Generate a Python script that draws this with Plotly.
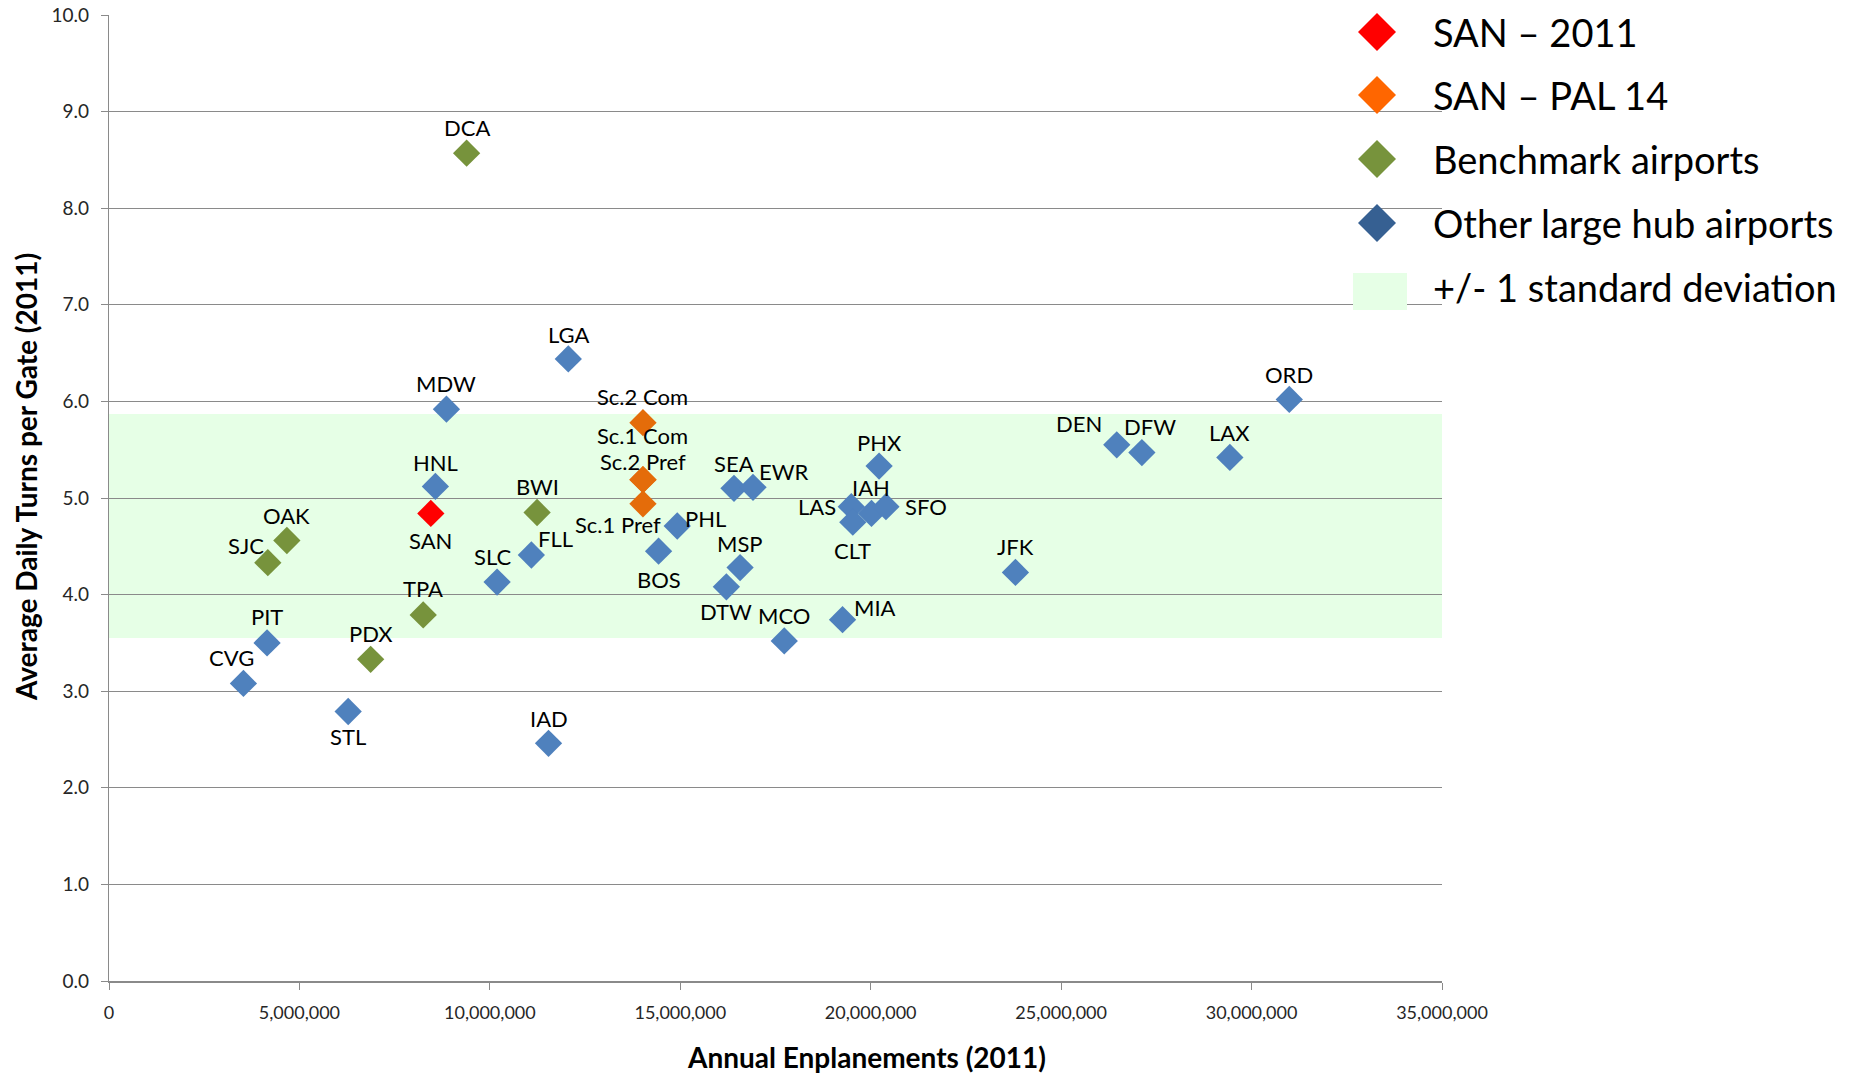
import plotly.graph_objects as go

# ---- data: annual enplanements (2011) vs. average daily turns per gate (2011) ----
san_2011_names = ["SAN"]
san_2011_enpl = [8.45e6]
san_2011_turns = [4.84]

pal14_names = ["Sc.2 Com", "Sc.1 Com", "Sc.2 Pref", "Sc.1 Pref"]
pal14_enpl = [14.02e6, 14.02e6, 14.02e6, 14.02e6]
pal14_turns = [5.78, 5.19, 5.19, 4.94]

bench_names = ["DCA", "OAK", "SJC", "BWI", "TPA", "PDX"]
bench_enpl = [9.39e6, 4.67e6, 4.17e6, 11.24e6, 8.25e6, 6.87e6]
bench_turns = [8.57, 4.56, 4.33, 4.85, 3.79, 3.33]

hub_names = ["LGA", "MDW", "HNL", "SLC", "FLL", "PIT", "CVG", "STL", "IAD",
             "PHL", "BOS", "SEA", "EWR", "MSP", "DTW", "MCO", "MIA", "PHX",
             "LAS", "IAH", "SFO", "CLT", "JFK", "DEN", "DFW", "LAX", "ORD"]
hub_enpl = [12.06e6, 8.86e6, 8.57e6, 10.19e6, 11.09e6, 4.15e6, 3.53e6, 6.28e6, 11.54e6,
            14.92e6, 14.43e6, 16.41e6, 16.91e6, 16.57e6, 16.21e6, 17.73e6, 19.26e6, 20.22e6,
            19.49e6, 20.02e6, 20.40e6, 19.53e6, 23.80e6, 26.46e6, 27.12e6, 29.43e6, 30.99e6]
hub_turns = [6.44, 5.92, 5.12, 4.13, 4.41, 3.50, 3.08, 2.79, 2.46,
             4.71, 4.45, 5.10, 5.11, 4.28, 4.08, 3.52, 3.74, 5.33,
             4.91, 4.84, 4.91, 4.75, 4.23, 5.55, 5.47, 5.42, 6.02]

# mean +/- 1 standard deviation band
band_low = 3.55
band_high = 5.87

x_tick_vals = [0, 5e6, 10e6, 15e6, 20e6, 25e6, 30e6, 35e6]
x_tick_text = ["0", "5,000,000", "10,000,000", "15,000,000", "20,000,000",
               "25,000,000", "30,000,000", "35,000,000"]
y_tick_vals = [0, 1, 2, 3, 4, 5, 6, 7, 8, 9, 10]

legend_labels = ["SAN \u2013 2011", "SAN \u2013 PAL 14", "Benchmark airports",
                 "Other large hub airports", "+/- 1 standard deviation"]

# ---- styling ----
W, H = 1856, 1075
FONT = "Lato, 'Open Sans', sans-serif"
GRID = "#8a8a8a"
BAND = "#e6ffe6"
marker_colors = {"san": "#ff0000", "pal": "#e46c0a", "bench": "#77933c", "hub": "#4f81bd"}
legend_colors = ["#ff0000", "#ff6600", "#77933c", "#366092"]

# label offsets from their marker in pixels: (dx, dy) with dy pointing down
label_offsets = {
    "DCA": (0, -26), "LGA": (0, -24), "MDW": (0, -26), "HNL": (0, -24),
    "SAN": (0, 27), "BWI": (0, -26), "OAK": (0, -25), "SJC": (-22, -17),
    "SLC": (-5, -26), "FLL": (24, -16), "TPA": (0, -26), "PIT": (0, -26),
    "PDX": (0, -26), "CVG": (-12, -26), "STL": (0, 25), "IAD": (0, -25),
    "Sc.2 Com": (0, -26), "Sc.1 Com": (0, -44), "Sc.2 Pref": (0, -18),
    "Sc.1 Pref": (-25, 21), "PHL": (28, -8), "BOS": (0, 28), "SEA": (0, -25),
    "EWR": (30, -16), "MSP": (0, -24), "DTW": (0, 25), "MCO": (0, -25),
    "MIA": (32, -12), "PHX": (0, -24), "LAS": (-34, 0), "IAH": (0, -26),
    "SFO": (40, 0), "CLT": (0, 28), "JFK": (0, -26), "DEN": (-38, -21),
    "DFW": (8, -26), "LAX": (0, -25), "ORD": (0, -25),
}

# plot area in figure pixels
PX_L, PX_R, PX_T, PX_B = 109, 1442, 15, 981


def px_x(px):
    return px / W


def px_y(py):
    return 1 - py / H


fig = go.Figure()

groups = [
    (san_2011_names, san_2011_enpl, san_2011_turns, marker_colors["san"], legend_labels[0]),
    (pal14_names, pal14_enpl, pal14_turns, marker_colors["pal"], legend_labels[1]),
    (bench_names, bench_enpl, bench_turns, marker_colors["bench"], legend_labels[2]),
    (hub_names, hub_enpl, hub_turns, marker_colors["hub"], legend_labels[3]),
]

annotations = []
for names, xs, ys, color, label in groups:
    fig.add_trace(go.Scatter(
        x=xs, y=ys, mode="markers", name=label, showlegend=False,
        marker=dict(symbol="diamond", size=21, color=color, line=dict(width=0)),
        hovertext=names, hoverinfo="text+x+y",
    ))
    for n, xv, yv in zip(names, xs, ys):
        dx, dy = label_offsets.get(n, (0, -25))
        annotations.append(dict(
            x=xv, y=yv, xref="x", yref="y", text=n, showarrow=False,
            xanchor="center", yanchor="middle", xshift=dx, yshift=-dy,
            font=dict(family=FONT, size=22, color="#000000"),
        ))

# axis titles
annotations.append(dict(
    x=px_x(866), y=px_y(1057), xref="paper", yref="paper",
    text="<b>Annual Enplanements (2011)</b>", showarrow=False,
    xanchor="center", yanchor="middle",
    font=dict(family=FONT, size=28, color="#000000"),
))
annotations.append(dict(
    x=px_x(26), y=px_y(477), xref="paper", yref="paper",
    text="<b>Average Daily Turns per Gate (2011)</b>", showarrow=False,
    textangle=-90, xanchor="center", yanchor="middle",
    font=dict(family=FONT, size=28, color="#000000"),
))

shapes = [
    # +/- 1 standard deviation band
    dict(type="rect", xref="x", yref="y", x0=0, x1=35e6, y0=band_low, y1=band_high,
         fillcolor=BAND, line=dict(width=0), layer="below"),
]

# key at the right-hand side
key_cx, key_tx = 1377, 1431
key_rows = [32, 95, 159, 223, 287]
half = 19
for i, (lab, cy) in enumerate(zip(legend_labels, key_rows)):
    if i < 4:
        path = (f"M {px_x(key_cx)},{px_y(cy - half)} L {px_x(key_cx + half)},{px_y(cy)} "
                f"L {px_x(key_cx)},{px_y(cy + half)} L {px_x(key_cx - half)},{px_y(cy)} Z")
        shapes.append(dict(type="path", xref="paper", yref="paper", path=path,
                           fillcolor=legend_colors[i], line=dict(width=0)))
    else:
        shapes.append(dict(type="rect", xref="paper", yref="paper",
                           x0=px_x(1353), x1=px_x(1407), y0=px_y(310), y1=px_y(273),
                           fillcolor=BAND, line=dict(width=0)))
    annotations.append(dict(
        x=px_x(key_tx), y=px_y(cy), xref="paper", yref="paper", text=lab,
        showarrow=False, xanchor="left", yanchor="middle",
        font=dict(family=FONT, size=38, color="#000000"),
    ))

fig.update_layout(
    width=W, height=H,
    margin=dict(l=0, r=0, t=0, b=0),
    paper_bgcolor="white", plot_bgcolor="white",
    showlegend=False,
    font=dict(family=FONT, color="#262626"),
    annotations=annotations,
    shapes=shapes,
    xaxis=dict(
        domain=[px_x(PX_L), px_x(PX_R)], range=[0, 35e6],
        tickvals=x_tick_vals, ticktext=x_tick_text,
        showgrid=False, zeroline=False,
        showline=True, linecolor=GRID, linewidth=1.5,
        ticks="outside", ticklen=7, tickcolor=GRID, tickwidth=1.2,
        ticklabelstandoff=8,
        tickfont=dict(family=FONT, size=18, color="#262626"),
        automargin=False, fixedrange=True,
    ),
    yaxis=dict(
        domain=[px_y(PX_B), px_y(PX_T)], range=[0, 10],
        tickvals=y_tick_vals, tickformat=".1f",
        showgrid=True, gridcolor=GRID, gridwidth=1.2,
        zeroline=False,
        showline=True, linecolor=GRID, linewidth=1.2,
        ticks="outside", ticklen=7, tickcolor=GRID, tickwidth=1.2,
        ticklabelstandoff=8,
        tickfont=dict(family=FONT, size=19, color="#262626"),
        automargin=False, fixedrange=True,
    ),
)

fig.write_html("out.html")
